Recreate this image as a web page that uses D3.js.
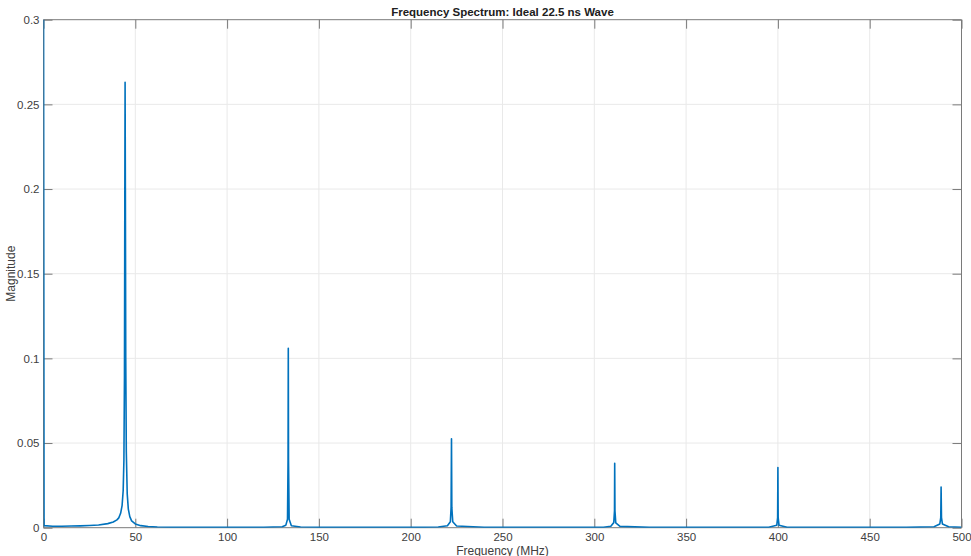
<!DOCTYPE html>
<html><head><meta charset="utf-8">
<script src="https://cdn.jsdelivr.net/npm/d3@7"></script>
<style>
body{margin:0;background:#fff;}
svg{display:block;font-family:"Liberation Sans",Arial,Helvetica,sans-serif;}
</style></head><body>
<svg id="chart" width="971" height="556"></svg>
<script>
const titleText = "Frequency Spectrum: Ideal 22.5 ns Wave";
const xLabel = "Frequency (MHz)";
const yLabel = "Magnitude";
const xTicks = [0,50,100,150,200,250,300,350,400,450,500];
const yTicks = [0,0.05,0.1,0.15,0.2,0.25,0.3];
const yTickLabels = ["0","0.05","0.1","0.15","0.2","0.25","0.3"];

const freqMHz = [0,0.3,5,10,15,20,25,30,35,38,40,41,42,42.8,43.4,43.8,44.1,44.3,44.44,44.6,44.8,45.1,45.6,46.2,47,48,50,53,57,62,70,80,100,120,130,132,132.9,133.2,133.33,133.45,133.8,135,140,160,200,215,220,221.6,222.0,222.22,222.4,222.9,225,240,280,305,309,310.6,311.0,311.11,311.25,311.7,314,330,370,395,399.4,399.85,400,400.15,400.6,405,430,470,485,488.2,488.7,488.89,489.1,489.6,493,500];
const magnitude = [0.35,0.0012,0.0009,0.0009,0.001,0.0011,0.0013,0.0016,0.0024,0.0034,0.0046,0.0058,0.0085,0.013,0.022,0.04,0.09,0.2,0.263,0.2,0.1,0.045,0.02,0.011,0.0065,0.004,0.0022,0.0012,0.0007,0.0004,0.0003,0.0002,0.0002,0.0003,0.0006,0.0015,0.005,0.04,0.106,0.04,0.005,0.0012,0.0004,0.0002,0.0002,0.0004,0.0012,0.0035,0.012,0.0525,0.012,0.0035,0.001,0.0003,0.0002,0.0003,0.0009,0.003,0.01,0.038,0.01,0.0028,0.0008,0.0002,0.0002,0.0003,0.0015,0.006,0.0355,0.006,0.0015,0.0003,0.0002,0.0002,0.0006,0.0022,0.006,0.024,0.006,0.0022,0.0006,0.0003];

(function(){
const W = 971, H = 556;
const m = {left:43.5, right:9.5, top:19.7, bottom:28.3};
const svg = d3.select("#chart");
const x = d3.scaleLinear().domain([0,500]).range([m.left, W-m.right]);
const y = d3.scaleLinear().domain([0,0.3]).range([H-m.bottom, m.top]);

const axisColor = "#7a7a7a", textColor = "#404040", gridColor = "#e9e9e9";

svg.append("g").selectAll("line").data(xTicks.slice(1,-1)).join("line")
  .attr("x1",d=>x(d)).attr("x2",d=>x(d)).attr("y1",y(0)).attr("y2",y(0.3))
  .attr("stroke",gridColor).attr("stroke-width",1);
svg.append("g").selectAll("line").data(yTicks.slice(1,-1)).join("line")
  .attr("y1",d=>y(d)).attr("y2",d=>y(d)).attr("x1",x(0)).attr("x2",x(500))
  .attr("stroke",gridColor).attr("stroke-width",1);

svg.append("clipPath").attr("id","clip").append("rect")
  .attr("x",x(0)).attr("y",y(0.3)).attr("width",x(500)-x(0)).attr("height",y(0)-y(0.3));

const tl = 9;
const gBottom = svg.append("g").attr("transform",`translate(0,${y(0)})`)
  .call(d3.axisBottom(x).tickValues(xTicks).tickSize(-tl).tickPadding(5).tickFormat(d3.format("d")));
const gTop = svg.append("g").attr("transform",`translate(0,${y(0.3)})`)
  .call(d3.axisTop(x).tickValues(xTicks).tickSize(-tl).tickFormat(""));
const gLeft = svg.append("g").attr("transform",`translate(${x(0)},0)`)
  .call(d3.axisLeft(y).tickValues(yTicks).tickSize(-tl).tickPadding(4).tickFormat((d,i)=>yTickLabels[i]));
const gRight = svg.append("g").attr("transform",`translate(${x(500)},0)`)
  .call(d3.axisRight(y).tickValues(yTicks).tickSize(-tl).tickFormat(""));
[gBottom,gTop,gLeft,gRight].forEach(g=>{
  g.selectAll(".domain").attr("stroke",axisColor).attr("stroke-width",1);
  g.selectAll(".tick line").attr("stroke",axisColor).attr("stroke-width",1);
  g.selectAll(".tick text").attr("fill",textColor).style("font-size","11.5px")
    .style("font-family",'"Liberation Sans",Arial,sans-serif');
});
gBottom.selectAll(".domain").attr("d",`M${x(0)},0H${x(500)}`);
gTop.selectAll(".domain").attr("d",`M${x(0)},0H${x(500)}`);
gLeft.selectAll(".domain").attr("d",`M0,${y(0)}V${y(0.3)}`);
gRight.selectAll(".domain").attr("d",`M0,${y(0)}V${y(0.3)}`);

const data = freqMHz.map((f,i)=>({f, v:magnitude[i]}));
svg.append("path").datum(data).attr("clip-path","url(#clip)")
  .attr("fill","none").attr("stroke","#0072BD").attr("stroke-width",1.6)
  .attr("stroke-linejoin","round")
  .attr("d", d3.line().x(d=>x(d.f)).y(d=>y(d.v)));

svg.append("text").attr("x",(x(0)+x(500))/2).attr("y",16).attr("text-anchor","middle")
  .attr("fill","#202020").style("font-size","11.5px").style("font-weight","bold").text(titleText);
svg.append("text").attr("x",(x(0)+x(500))/2).attr("y",555).attr("text-anchor","middle")
  .attr("fill",textColor).style("font-size","12px").text(xLabel);
svg.append("text").attr("transform",`translate(15,${(y(0)+y(0.3))/2}) rotate(-90)`)
  .attr("text-anchor","middle").attr("fill",textColor).style("font-size","12px").text(yLabel);
})();
</script>
</body></html>
